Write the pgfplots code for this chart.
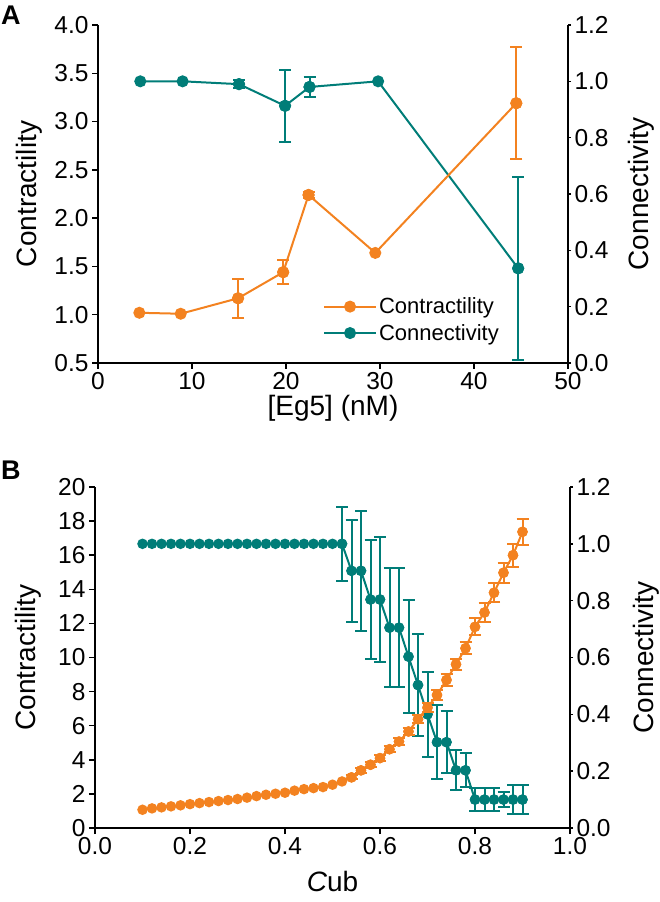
\documentclass[border=0pt]{standalone}
\usepackage{pgfplots}
\pgfplotsset{compat=1.18}
\usepackage{fontspec}
\setmainfont{Liberation Sans}
\definecolor{orng}{RGB}{243,130,32}
\definecolor{tealc}{RGB}{0,125,120}

\tikzset{
  orngA/.style={color=orng, line width=2pt, mark=*, mark size=5pt, mark options={solid,fill=orng,draw=orng}},
  tealA/.style={color=tealc, line width=2pt, mark=*, mark size=5pt, mark options={solid,fill=tealc,draw=tealc}},
  orngB/.style={color=orng, line width=2pt, mark=*, mark size=4.2pt, mark options={solid,fill=orng,draw=orng}},
  tealB/.style={color=tealc, line width=2pt, mark=*, mark size=4.2pt, mark options={solid,fill=tealc,draw=tealc}},
  lab/.style={font=\fontsize{28}{32}\selectfont},
}

\pgfplotsset{
  base/.style={
    scale only axis, anchor=south west, clip=false,
    /pgf/number format/assume math mode=true,
    ticklabel style={font=\fontsize{24.5}{28}\selectfont},
  },
  fin/.style={
    tick align=outside,
    axis line style={-, line width=1.4pt},
    x axis line style={-}, y axis line style={-},
    major tick style={line width=1.4pt, black},
  },
  errs/.style={
    only marks, forget plot,
    /pgfplots/error bars/y dir=both,
    /pgfplots/error bars/y explicit,
    /pgfplots/error bars/error bar style={line width=2pt},
    /pgfplots/error bars/error mark options={rotate=90, mark size=6pt, line width=2pt},
  },
  onedec/.style={/pgf/number format/.cd, fixed, fixed zerofill, precision=1},
}

\begin{document}
\begin{tikzpicture}
\useasboundingbox (0pt,0pt) rectangle (660pt,902pt);

\node[anchor=base west, inner sep=0pt, font=\bfseries\fontsize{27}{27}\selectfont] at (1pt,877pt) {A};
\node[anchor=base west, inner sep=0pt, font=\bfseries\fontsize{27}{27}\selectfont] at (1pt,422pt) {B};

% ---------- Panel A: connectivity (right axis)
\begin{axis}[base, at={(98pt,539pt)}, width=470pt, height=338pt,
  xmin=0, xmax=50, ymin=0, ymax=1.2,
  axis x line=none, axis y line=right, fin,
  major tick length=3pt,
  ytick={0,0.2,0.4,0.6,0.8,1.0,1.2},
  yticklabel style={onedec},
  ylabel={Connectivity},
  every axis y label/.style={at={(axis description cs:1.155,0.5)}, rotate=90, anchor=center, lab},
]
\addplot[tealA] coordinates {(4.5,1.0) (9.0,1.0) (15.0,0.99) (19.9,0.913) (22.5,0.98) (29.8,1.0) (44.7,0.336)};
\addplot[tealA, errs] coordinates {
  (15.0,0.99) +- (0,0.014)
  (19.9,0.913) +- (0,0.128)
  (22.5,0.98) +- (0,0.035)
  (44.7,0.336) +- (0,0.326)};
\end{axis}

% ---------- Panel A: contractility (left axis)
\begin{axis}[base, at={(98pt,539pt)}, width=470pt, height=338pt,
  xmin=0, xmax=50, ymin=0.5, ymax=4.0,
  axis x line=bottom, axis y line=left, fin,
  major tick length=6pt,
  xtick={0,10,20,30,40,50},
  ytick={0.5,1.0,1.5,2.0,2.5,3.0,3.5,4.0},
  yticklabel style={onedec},
  xlabel={[Eg5] (nM)}, ylabel={Contractility},
  every axis x label/.style={at={(axis description cs:0.5,-0.133)}, anchor=center, lab},
  every axis y label/.style={at={(axis description cs:-0.147,0.5)}, rotate=90, anchor=center, lab},
  legend style={draw=none, fill=none, at={(axis description cs:0.472,0.205)}, anchor=north west,
    font=\fontsize{22}{26}\selectfont, cells={anchor=west}, row sep=5pt},
  legend image code/.code={\draw[#1, mark repeat=2, mark phase=2] plot coordinates {(0pt,0pt) (26pt,0pt) (52pt,0pt)};},
]
\addplot[orngA] coordinates {(4.4,1.02) (8.8,1.01) (14.9,1.17) (19.7,1.44) (22.4,2.24) (29.5,1.64) (44.5,3.19)};
\addlegendentry{Contractility}
\addplot[orngA, errs] coordinates {
  (14.9,1.17) +- (0,0.20)
  (19.7,1.44) +- (0,0.125)
  (22.4,2.24) +- (0,0.03)
  (44.5,3.19) +- (0,0.58)};
\addlegendimage{tealA}
\addlegendentry{Connectivity}
\end{axis}

% ---------- Panel B: connectivity (right axis)
\begin{axis}[base, at={(95pt,74pt)}, width=475pt, height=341pt,
  xmin=0, xmax=1, ymin=0, ymax=1.2,
  axis x line=none, axis y line=right, fin,
  major tick length=3pt,
  ytick={0,0.2,0.4,0.6,0.8,1.0,1.2},
  yticklabel style={onedec},
  ylabel={Connectivity},
  every axis y label/.style={at={(axis description cs:1.16,0.5)}, rotate=90, anchor=center, lab},
]
\addplot[tealB] coordinates {
  (0.10,1.0) (0.12,1.0) (0.14,1.0) (0.16,1.0) (0.18,1.0) (0.20,1.0) (0.22,1.0)
  (0.24,1.0) (0.26,1.0) (0.28,1.0) (0.30,1.0) (0.32,1.0) (0.34,1.0) (0.36,1.0)
  (0.38,1.0) (0.40,1.0) (0.42,1.0) (0.44,1.0) (0.46,1.0) (0.48,1.0) (0.50,1.0)
  (0.52,1.0) (0.54,0.905) (0.56,0.905) (0.58,0.804) (0.60,0.804) (0.62,0.705)
  (0.64,0.705) (0.66,0.603) (0.68,0.503) (0.70,0.40) (0.72,0.302) (0.74,0.302)
  (0.76,0.203) (0.78,0.203) (0.80,0.10) (0.82,0.10) (0.84,0.10) (0.86,0.10)
  (0.88,0.10) (0.90,0.10)};
\addplot[tealB, errs] coordinates {
  (0.52,1.0) +- (0,0.13)
  (0.54,0.905) +- (0,0.18)
  (0.56,0.905) +- (0,0.21)
  (0.58,0.804) +- (0,0.21)
  (0.60,0.804) +- (0,0.22)
  (0.62,0.705) +- (0,0.21)
  (0.64,0.705) +- (0,0.21)
  (0.66,0.603) +- (0,0.20)
  (0.68,0.503) +- (0,0.18)
  (0.70,0.40) +- (0,0.15)
  (0.72,0.302) +- (0,0.13)
  (0.74,0.302) +- (0,0.11)
  (0.76,0.203) +- (0,0.07)
  (0.78,0.203) +- (0,0.06)
  (0.80,0.10) +- (0,0.04)
  (0.82,0.10) +- (0,0.04)
  (0.84,0.10) +- (0,0.04)
  (0.86,0.10) +- (0,0.025)
  (0.88,0.10) +- (0,0.05)
  (0.90,0.10) +- (0,0.05)};
\end{axis}

% ---------- Panel B: contractility (left axis)
\begin{axis}[base, at={(95pt,74pt)}, width=475pt, height=341pt,
  xmin=0, xmax=1, ymin=0, ymax=20,
  axis x line=bottom, axis y line=left, fin,
  major tick length=6pt,
  xtick={0,0.2,0.4,0.6,0.8,1.0},
  xticklabel style={onedec},
  ytick={0,2,4,6,8,10,12,14,16,18,20},
  xlabel={{\itshape C}ub}, ylabel={Contractility},
  every axis x label/.style={at={(axis description cs:0.5,-0.158)}, anchor=center, lab},
  every axis y label/.style={at={(axis description cs:-0.141,0.5)}, rotate=90, anchor=center, lab},
]
\addplot[orngB] coordinates {
  (0.10,1.07) (0.12,1.15) (0.14,1.21) (0.16,1.27) (0.18,1.33) (0.20,1.40)
  (0.22,1.46) (0.24,1.52) (0.26,1.58) (0.28,1.64) (0.30,1.70) (0.32,1.78)
  (0.34,1.87) (0.36,1.95) (0.38,2.01) (0.40,2.07) (0.42,2.19) (0.44,2.28)
  (0.46,2.34) (0.48,2.40) (0.50,2.54) (0.52,2.73) (0.54,2.97) (0.56,3.38)
  (0.58,3.71) (0.60,4.10) (0.62,4.62) (0.64,5.07) (0.66,5.66) (0.68,6.38)
  (0.70,7.06) (0.72,7.80) (0.74,8.68) (0.76,9.60) (0.78,10.54) (0.80,11.80)
  (0.82,12.64) (0.84,13.80) (0.86,14.97) (0.88,16.00) (0.90,17.37)};
\addplot[orngB, errs] coordinates {
  (0.54,2.97) +- (0,0.12)
  (0.56,3.38) +- (0,0.14)
  (0.58,3.71) +- (0,0.15)
  (0.60,4.10) +- (0,0.17)
  (0.62,4.62) +- (0,0.19)
  (0.64,5.07) +- (0,0.20)
  (0.66,5.66) +- (0,0.22)
  (0.68,6.38) +- (0,0.23)
  (0.70,7.06) +- (0,0.25)
  (0.72,7.80) +- (0,0.27)
  (0.74,8.68) +- (0,0.37)
  (0.76,9.60) +- (0,0.32)
  (0.78,10.54) +- (0,0.36)
  (0.80,11.80) +- (0,0.50)
  (0.82,12.64) +- (0,0.55)
  (0.84,13.80) +- (0,0.55)
  (0.86,14.97) +- (0,0.60)
  (0.88,16.00) +- (0,0.68)
  (0.90,17.37) +- (0,0.78)};
\end{axis}
\end{tikzpicture}
\end{document}
